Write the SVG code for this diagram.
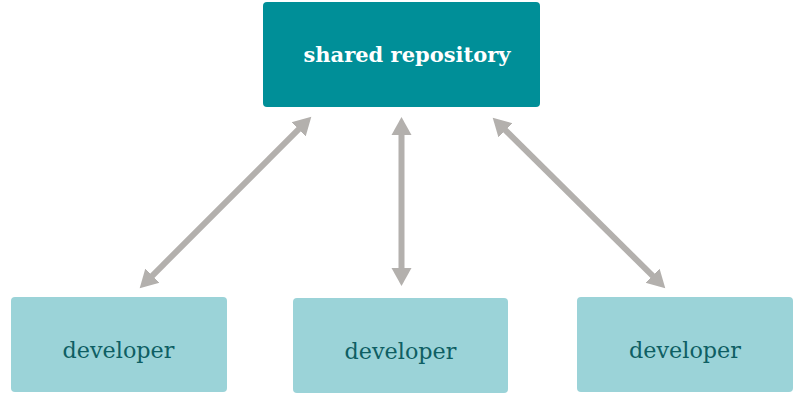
<svg xmlns="http://www.w3.org/2000/svg" width="800" height="403" viewBox="0 0 800 403">
<defs>
<marker id="ah" markerUnits="userSpaceOnUse" markerWidth="20" markerHeight="22" viewBox="0 -11 20 22" refX="1" refY="0" orient="auto-start-reverse">
<path d="M0,-10 L18,0 L0,10 z" fill="#b3b0ad"/>
</marker>
</defs>
<style>
.repo{fill:#008f98}
.dev{fill:#9bd3d8}
.t1{font-family:"DejaVu Serif","Liberation Serif",serif;font-weight:bold;font-size:21px;fill:#ffffff}
.t2{font-family:"DejaVu Serif","Liberation Serif",serif;font-size:22.3px;fill:#0e5e63}
.c{stroke:#b3b0ad;stroke-width:6;fill:none;marker-start:url(#ah);marker-end:url(#ah)}
</style>
<rect width="800" height="403" fill="#ffffff"/>
<g id="repo">
<rect class="repo" x="263" y="2" width="277" height="105" rx="4"/>
<text class="t1" x="407" y="62" text-anchor="middle">shared repository</text>
</g>
<g id="dev1">
<rect class="dev" x="11" y="297" width="216" height="95" rx="4"/>
<text class="t2" x="118.5" y="358" text-anchor="middle">developer</text>
</g>
<g id="dev2">
<rect class="dev" x="293" y="298" width="215" height="95" rx="4"/>
<text class="t2" x="400.5" y="359" text-anchor="middle">developer</text>
</g>
<g id="dev3">
<rect class="dev" x="577" y="297" width="216" height="95" rx="4"/>
<text class="t2" x="685" y="358" text-anchor="middle">developer</text>
</g>
<g id="connectors">
<line class="c" x1="151.7" y1="276.3" x2="299.3" y2="128.7"/>
<line class="c" x1="401.5" y1="269" x2="401.5" y2="134"/>
<line class="c" x1="504.8" y1="129.65" x2="653.2" y2="276.35"/>
</g>
</svg>
